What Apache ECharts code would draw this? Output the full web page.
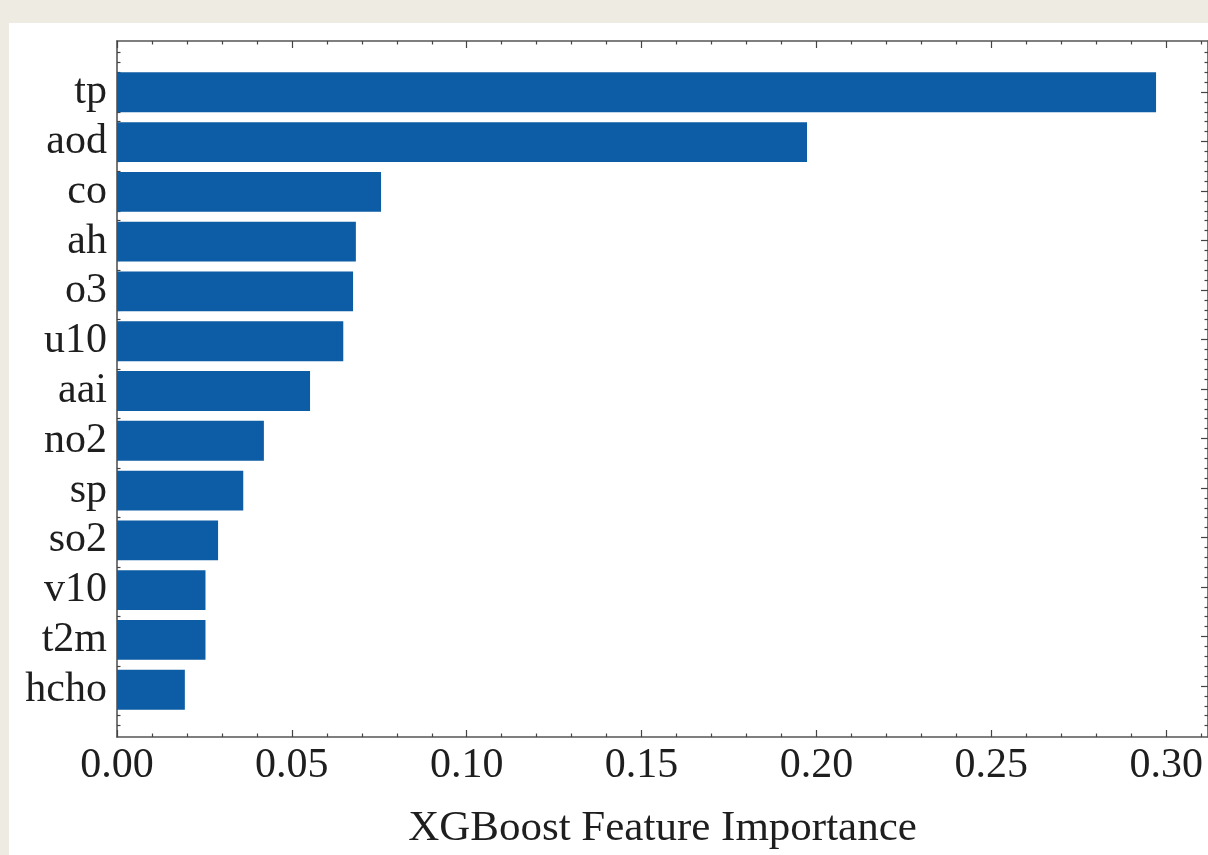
<!DOCTYPE html>
<html>
<head>
<meta charset="utf-8">
<title>XGBoost Feature Importance</title>
<script src="https://cdn.jsdelivr.net/npm/echarts@6/dist/echarts.min.js"></script>
<style>
  html, body { margin: 0; padding: 0; width: 1208px; height: 855px; background: #edebe2; overflow: hidden; }
  #chart { position: absolute; left: 9px; top: 23px; width: 1199px; height: 832px; background: #ffffff; }
</style>
</head>
<body>
<div id="chart"></div>
<script>
// Feature names, top to bottom
const features = ['tp', 'aod', 'co', 'ah', 'o3', 'u10', 'aai', 'no2', 'sp', 'so2', 'v10', 't2m', 'hcho'];
// Importance score of each feature
const importance = [0.2971, 0.1973, 0.0755, 0.0683, 0.0675, 0.0647, 0.0552, 0.0420, 0.0361, 0.0289, 0.0253, 0.0253, 0.0194];
// Labelled ticks on the importance axis
const xMajorTicks = [0.00, 0.05, 0.10, 0.15, 0.20, 0.25, 0.30];
const xMinorTicks = [0.01, 0.02, 0.03, 0.04, 0.06, 0.07, 0.08, 0.09, 0.11, 0.12, 0.13, 0.14,
                     0.16, 0.17, 0.18, 0.19, 0.21, 0.22, 0.23, 0.24, 0.26, 0.27, 0.28, 0.29, 0.31];
const xTitle = 'XGBoost Feature Importance';

// Axis range: 5% padding around the data, like matplotlib's default margins
const xMax = Math.max(...importance) * 1.05;
const yMin = -1.03;
const yMax = features.length - 1 + 1.03;

// Tick positions along the category direction (category index units)
const yMajor = features.map((_, i) => i);
const yMinor = [];
for (let k = -5; k <= 65; k++) { if (k % 5 !== 0) yMinor.push(k / 5); }

// Plot box inside the white panel
const box = { left: 108, right: 0, top: 18, bottom: 114 };
const boxH = 832 - box.top - box.bottom;
const pxPerUnit = boxH / (yMax - yMin);
// Band area for the bars: categories run from -0.5 to n-0.5
const barGrid = {
  left: box.left, right: box.right,
  top: box.top + (-0.5 - yMin) * pxPerUnit,
  bottom: box.bottom + (yMax - (features.length - 0.5)) * pxPerUnit
};

const FONT = '"Liberation Serif", "DejaVu Serif", serif';
const INK = '#1e1e1e';
const tickLine = { color: '#444', width: 1.2 };

function frameX(pos, ticks, len, showLine, labels) {
  return {
    type: 'value', gridIndex: 0, position: pos, min: 0, max: xMax,
    axisLine: { show: showLine, onZero: false, lineStyle: { color: '#555', width: 1.6 } },
    axisTick: { show: true, inside: true, length: len, customValues: ticks, lineStyle: tickLine },
    axisLabel: labels ? {
      show: true, customValues: ticks, margin: 8,
      formatter: v => v.toFixed(2), fontFamily: FONT, fontSize: 42, color: INK
    } : { show: false },
    splitLine: { show: false }
  };
}
function frameY(pos, ticks, len, showLine) {
  return {
    type: 'value', gridIndex: 0, position: pos, inverse: true, min: yMin, max: yMax,
    axisLine: { show: showLine, onZero: false, lineStyle: { color: '#555', width: 1.6 } },
    axisTick: { show: true, inside: true, length: len, customValues: ticks, lineStyle: tickLine },
    axisLabel: { show: false },
    splitLine: { show: false }
  };
}

const xBottom = frameX('bottom', xMajorTicks, 7, true, true);
xBottom.name = xTitle;
xBottom.nameLocation = 'middle';
xBottom.nameGap = 70;
xBottom.nameTextStyle = { fontFamily: FONT, fontSize: 43, color: INK };

const option = {
  animation: false,
  grid: [
    { left: box.left, right: box.right, top: box.top, bottom: box.bottom, containLabel: false },
    { left: barGrid.left, right: barGrid.right, top: barGrid.top, bottom: barGrid.bottom, containLabel: false }
  ],
  xAxis: [
    xBottom,
    frameX('bottom', xMinorTicks, 3.5, false, false),
    frameX('top', xMajorTicks, 7, true, false),
    frameX('top', xMinorTicks, 3.5, false, false),
    { type: 'value', gridIndex: 1, min: 0, max: xMax, show: false }
  ],
  yAxis: [
    frameY('left', yMajor, 7, true),
    frameY('left', yMinor, 3.5, false),
    frameY('right', yMajor, 7, true),
    frameY('right', yMinor, 3.5, false),
    {
      type: 'category', gridIndex: 1, data: features, inverse: true,
      axisLine: { show: false }, axisTick: { show: false }, splitLine: { show: false },
      axisLabel: { interval: 0, margin: 10, fontFamily: FONT, fontSize: 42, color: INK }
    }
  ],
  series: [{
    type: 'bar',
    xAxisIndex: 4, yAxisIndex: 4,
    data: importance,
    barCategoryGap: '20%',
    itemStyle: { color: '#0c5da5' },
    silent: true
  }]
};

const chart = echarts.init(document.getElementById('chart'), null, { renderer: 'canvas' });
chart.setOption(option);
</script>
</body>
</html>
